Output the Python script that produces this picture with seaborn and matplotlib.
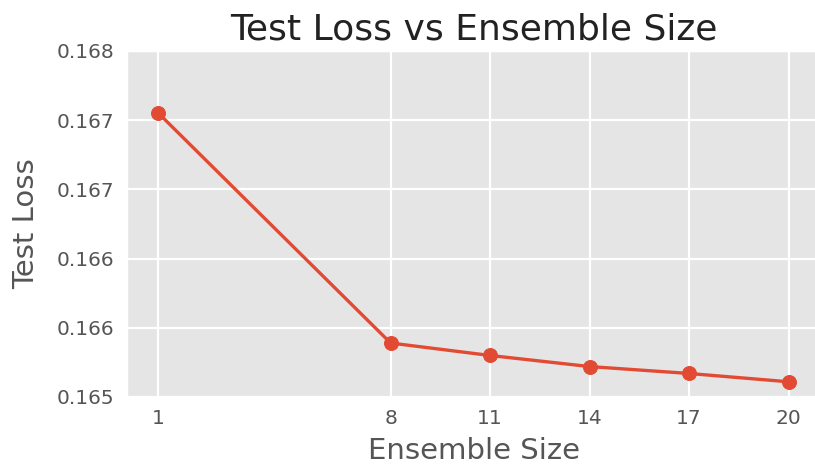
import matplotlib
matplotlib.use("Agg")
import matplotlib.pyplot as plt
import seaborn as sns
import pandas as pd
from matplotlib.ticker import FixedLocator, FixedFormatter

# values
ensemble_sizes = [1, 8, 11, 14, 17, 20]
test_loss = [0.16755, 0.16589, 0.16580, 0.16572, 0.16567, 0.16561]
ytick_values = [0.1655, 0.1660, 0.1665, 0.1670, 0.1675, 0.1680]
ytick_labels = ["0.165", "0.166", "0.166", "0.167", "0.167", "0.168"]

df = pd.DataFrame({"Ensemble Size": ensemble_sizes, "Test Loss": test_loss})

plt.style.use("ggplot")
fig = plt.figure(figsize=(8.15, 4.70), dpi=100)
ax = fig.add_axes([127 / 815, 1 - 397 / 470, (820 - 127) / 815, (397 - 51) / 470])

sns.lineplot(data=df, x="Ensemble Size", y="Test Loss", ax=ax,
             color="#E24A33", linewidth=2.4, marker="o", markersize=10,
             markeredgecolor="#E24A33")

ax.set_xticks(ensemble_sizes)
ax.set_xlim(0.05, 20.95)
ax.yaxis.set_major_locator(FixedLocator(ytick_values))
ax.yaxis.set_major_formatter(FixedFormatter(ytick_labels))
ax.set_ylim(0.1655, 0.1680)
ax.grid(True, color="white", linewidth=1.6)
ax.tick_params(labelsize=14.5, colors="#555555", length=0, pad=9)
ax.set_title("Test Loss vs Ensemble Size", fontsize=26, color="#222222", pad=8)
ax.set_xlabel("Ensemble Size", fontsize=21, color="#555555", labelpad=6)
ax.set_ylabel("Test Loss", fontsize=21, color="#555555", labelpad=12)

fig.savefig("out.png", dpi=100)
